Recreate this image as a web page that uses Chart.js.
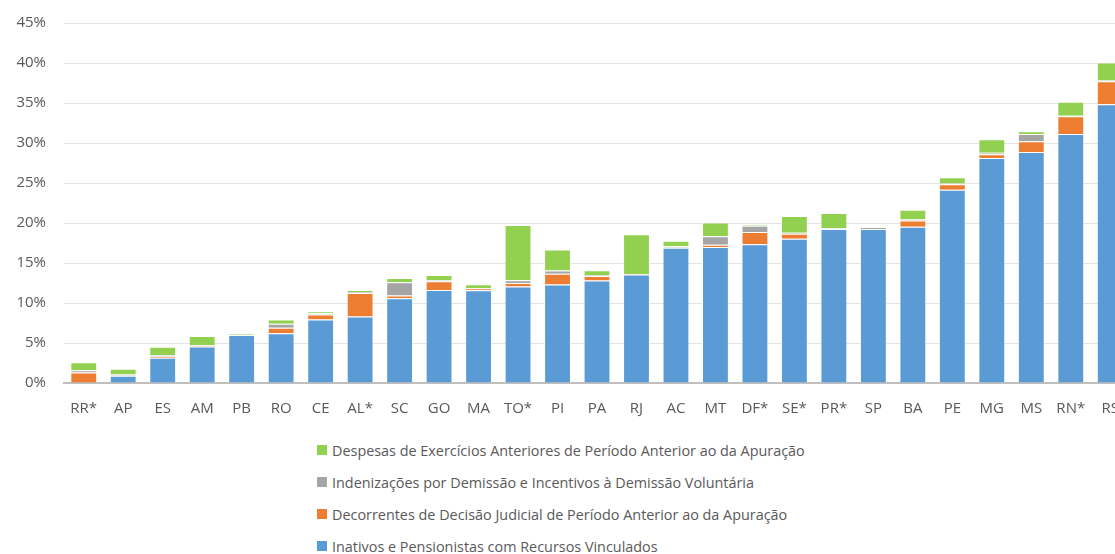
<!DOCTYPE html>
<html lang="pt">
<head>
    <meta charset="UTF-8">
    <title>Despesas com pessoal por UF</title>
    <script src="https://cdn.jsdelivr.net/npm/chart.js"></script>
    <style>
        html, body { margin: 0; padding: 0; background: #fff; overflow: hidden; }
        .wrap { position: relative; width: 1115px; height: 554px; overflow: hidden; }
        .chartBox { position: absolute; left: 0; top: -4px; width: 1130px; height: 427px; }
        #legend { position: absolute; left: 317px; top: 440px; font-family: "Open Sans", sans-serif; font-size: 14.4px; color: #595959; }
        #legend div { display: flex; align-items: center; height: 20px; margin-bottom: 12px; }
        #legend span.box { display: inline-block; width: 10px; height: 10px; margin-right: 5px; }
    </style>
</head>
<body>
    <div class="wrap">
        <div class="chartBox"><canvas id="ufChart"></canvas></div>
        <div id="legend"></div>
    </div>

    <script>
        // categorias (UF)
        let estados = ["RR*", "AP", "ES", "AM", "PB", "RO", "CE", "AL*", "SC", "GO", "MA", "TO*", "PI", "PA",
            "RJ", "AC", "MT", "DF*", "SE*", "PR*", "SP", "BA", "PE", "MG", "MS", "RN*", "RS"];

        // valores em %
        let inativos = [0, 0.9, 3.15, 4.57, 6.0, 6.23, 7.94, 8.32, 10.6, 11.63, 11.6, 12.05, 12.3, 12.8,
            13.55, 16.92, 17.0, 17.33, 18.04, 19.24, 19.24, 19.53, 24.15, 28.14, 28.89, 31.13, 34.83];
        let decisaoJudicial = [1.3, 0.05, 0.17, 0.12, 0, 0.67, 0.62, 2.94, 0.33, 1.09, 0.22, 0.45, 1.37, 0.58,
            0.08, 0.03, 0.29, 1.54, 0.62, 0.05, 0, 0.79, 0.7, 0.46, 1.32, 2.2, 2.9];
        let indenizacoes = [0.3, 0.12, 0.17, 0.03, 0, 0.5, 0.15, 0.1, 1.66, 0.12, 0.05, 0.34, 0.38, 0.09,
            0, 0.13, 1.04, 0.8, 0.13, 0.07, 0.25, 0.13, 0.09, 0.17, 0.92, 0.09, 0.09];
        let exerciciosAnteriores = [1.0, 0.7, 1.05, 1.15, 0.15, 0.55, 0.27, 0.25, 0.54, 0.66, 0.47, 6.9, 2.65, 0.62,
            4.95, 0.71, 1.74, 0.08, 2.07, 1.88, 0, 1.2, 0.78, 1.69, 0.33, 1.74, 2.24];

        let yTicks = [0, 5, 10, 15, 20, 25, 30, 35, 40, 45];

        let series = [
            { label: "Inativos e Pensionistas com Recursos Vinculados", data: inativos, color: "#5B9BD5" },
            { label: "Decorrentes de Decisão Judicial de Período Anterior ao da Apuração", data: decisaoJudicial, color: "#ED7D31" },
            { label: "Indenizações por Demissão e Incentivos à Demissão Voluntária", data: indenizacoes, color: "#A5A5A5" },
            { label: "Despesas de Exercícios Anteriores de Período Anterior ao da Apuração", data: exerciciosAnteriores, color: "#92D050" }
        ];

        let font = { family: "'Open Sans', sans-serif", size: 15 };

        let ctx = document.getElementById("ufChart").getContext("2d");
        let chart = new Chart(ctx, {
            type: "bar",
            data: {
                labels: estados,
                datasets: series.map(s => ({
                    label: s.label,
                    data: s.data,
                    backgroundColor: s.color,
                    borderColor: "rgba(255,255,255,0.55)",
                    borderWidth: 1,
                    barPercentage: 0.68,
                    categoryPercentage: 1
                }))
            },
            options: {
                responsive: true,
                maintainAspectRatio: false,
                animation: false,
                layout: { padding: { top: 17, left: 0, right: 0, bottom: 0 } },
                plugins: {
                    legend: { display: false },
                    tooltip: { enabled: false }
                },
                scales: {
                    x: {
                        stacked: true,
                        grid: { display: false },
                        border: { color: "#BFBFBF", width: 2 },
                        ticks: { color: "#595959", font: font, padding: 9, maxRotation: 0, autoSkip: false },
                        afterFit: s => { s.height = 40; }
                    },
                    y: {
                        stacked: true,
                        min: 0,
                        max: 45,
                        afterBuildTicks: s => { s.ticks = yTicks.map(v => ({ value: v })); },
                        grid: { color: "#E4E4E4", lineWidth: 1, drawTicks: false },
                        border: { display: false },
                        ticks: { color: "#595959", font: font, padding: 18, callback: v => v + "%" },
                        afterFit: s => { s.width = 64; }
                    }
                }
            }
        });

        // legenda em coluna (ordem inversa ao empilhamento)
        let legend = document.getElementById("legend");
        series.slice().reverse().forEach(s => {
            let row = document.createElement("div");
            row.innerHTML = '<span class="box" style="background:' + s.color + '"></span>' + s.label;
            legend.appendChild(row);
        });
    </script>
</body>
</html>
